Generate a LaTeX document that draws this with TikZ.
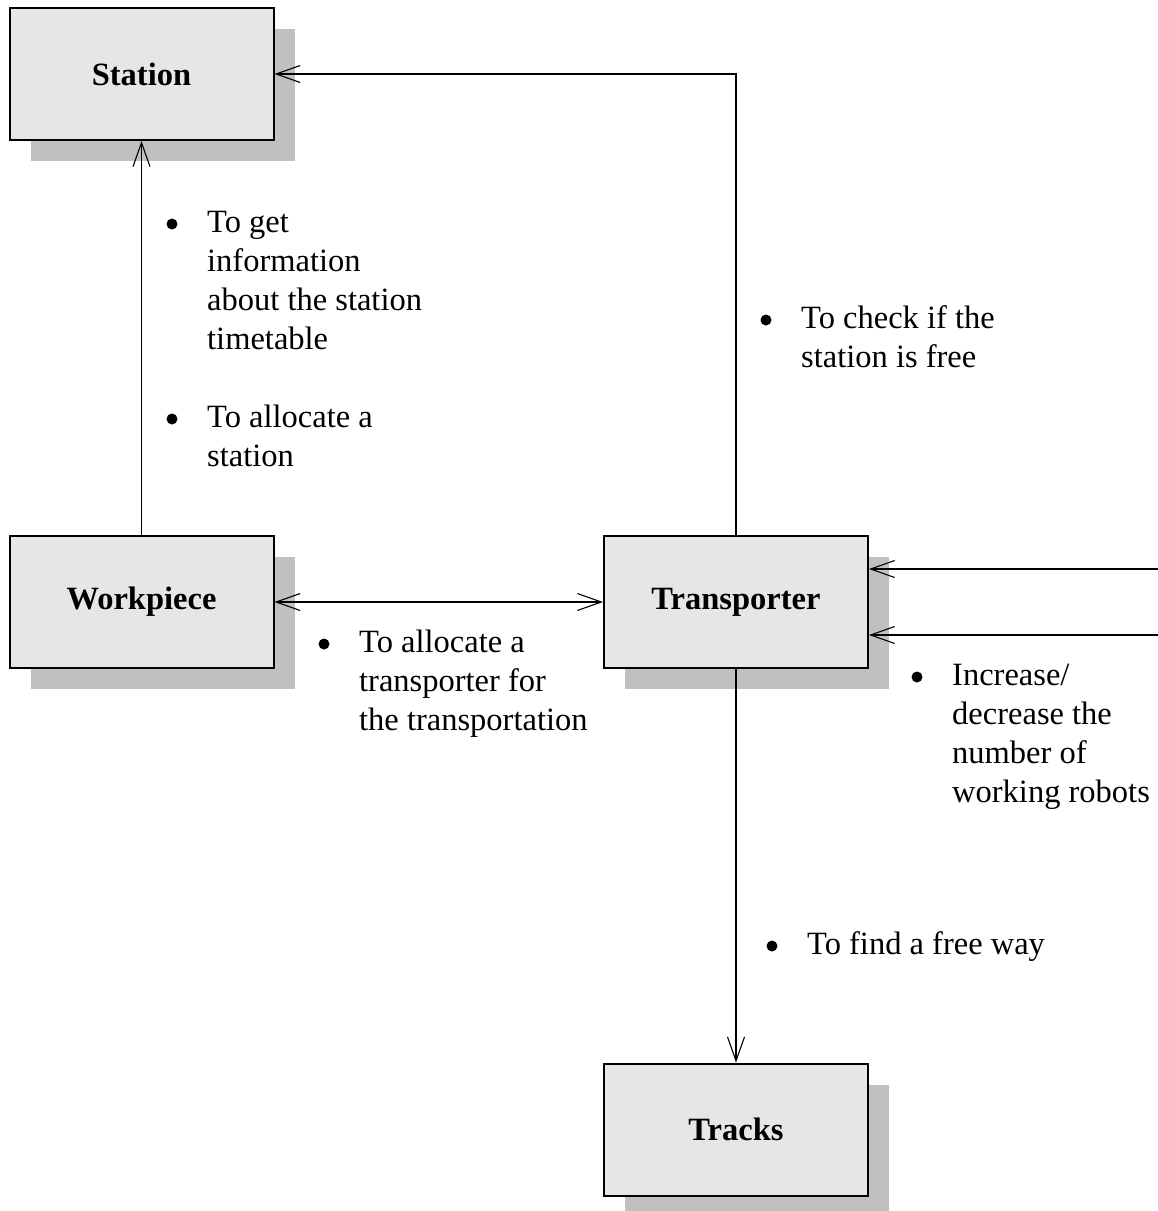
\documentclass[tikz,border=0pt]{standalone}
\usepackage{fontspec}
\setmainfont{Liberation Serif}
\usetikzlibrary{arrows.meta,shadows}
\definecolor{boxfill}{HTML}{E6E6E6}
\definecolor{shadowfill}{HTML}{C0C0C0}
% top-aligned stack of lines: the baseline is that of the first line
\newcommand\notelines[1]{\begin{tabular}[t]{@{}l@{}}#1\end{tabular}}
\begin{document}
\begin{tikzpicture}[x=1pt,y=-1pt,
  entity/.style={draw=black, line width=2pt, fill=boxfill,
    minimum width=264pt, minimum height=132pt, inner sep=0pt,
    general shadow={fill=shadowfill, shadow xshift=21pt, shadow yshift=-21pt},
    font=\fontsize{32.5}{39.3}\selectfont\bfseries},
  tipv/.tip={Straight Barb[length=24pt,width=17pt,line width=1.1pt]},
  link/.style={line width=1.1pt, -tipv},
  note/.style={anchor=base west, inner sep=0pt,
    font=\fontsize{32.5}{39.3}\selectfont},
  dot/.style={fill=black},
]
\useasboundingbox (0,0) rectangle (1158,1211);

% entities
\node[entity] (st) at (141.5,74)   {Station};
\node[entity] (wp) at (141.5,602)  {Workpiece};
\node[entity] (tr) at (736,602)    {Transporter};
\node[entity] (tk) at (736,1129.5) {Tracks};

% external inputs entering from the right
\coordinate (in1) at (1158,569);
\coordinate (in2) at (1158,635);

% connectors
\draw[link] (tr.north) |- (st.east);
\draw[link] (wp.north) -- (st.south);
\draw[link, tipv-tipv] (wp.east) -- (tr.west);
\draw[link] (tr.south) -- (tk.north);
\draw[link] (in1) -- (tr.east |- in1);
\draw[link] (in2) -- (tr.east |- in2);

% annotations
\node[note] (n1) at (207,232) {\notelines{To get\\information\\about the station\\timetable}};
\node[note] (n2) at (207,427) {\notelines{To allocate a\\station}};
\node[note] (n3) at (801,328) {\notelines{To check if the\\station is free}};
\node[note] (n4) at (359,652) {\notelines{To allocate a\\transporter for\\the transportation}};
\node[note] (n5) at (952,685) {\notelines{Increase/\\decrease the\\number of\\working robots}};
\node[note] (n6) at (807,954) {To find a free way};

\foreach \n in {n1,n2,n3,n4,n5,n6}
  \fill[dot] ([shift={(-35pt,8pt)}]\n.base west) circle (5.5pt);
\end{tikzpicture}
\end{document}
